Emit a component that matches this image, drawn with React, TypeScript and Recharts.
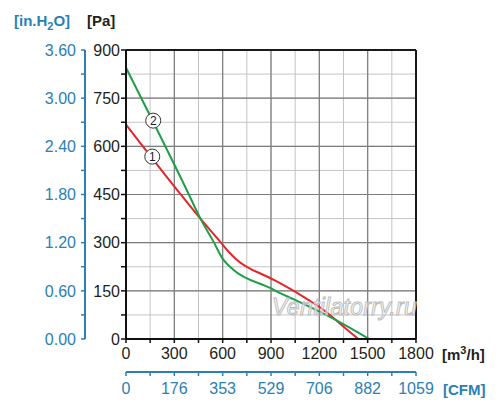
import React from 'react';
import { LineChart, Line, XAxis, YAxis, CartesianGrid, ReferenceLine, ReferenceDot } from 'recharts';

const curve1 = [
  { q: 0, p: 668 }, { q: 318, p: 464 }, { q: 463, p: 374 }, { q: 583, p: 304 },
  { q: 640, p: 270 }, { q: 687, p: 247 }, { q: 894, p: 190 }, { q: 956, p: 174 },
  { q: 1132, p: 122 }, { q: 1225, p: 91 }, { q: 1349, p: 39 }, { q: 1442, p: 0 },
];
const curve2 = [
  { q: 0, p: 845 }, { q: 377, p: 464 }, { q: 463, p: 374 }, { q: 542, p: 304 },
  { q: 604, p: 247 }, { q: 666, p: 216 }, { q: 894, p: 159 }, { q: 956, p: 143 },
  { q: 1039, p: 124 }, { q: 1318, p: 55 }, { q: 1510, p: 0 },
];
const curveLabels = [
  { q: 169, p: 680, text: '2' },
  { q: 163, p: 568, text: '1' },
];
const flowTicks = [0, 150, 300, 450, 600, 750, 900, 1050, 1200, 1350, 1500, 1650, 1800];
const flowMajor = [300, 600, 900, 1200, 1500];
const paTicks = [0, 75, 150, 225, 300, 375, 450, 525, 600, 675, 750, 825, 900];
const paMajor = [150, 300, 450, 600, 750];
const inTicks = [0, 0.3, 0.6, 0.9, 1.2, 1.5, 1.8, 2.1, 2.4, 2.7, 3.0, 3.3, 3.6];
const inLabels = ['0.00', '', '0.60', '', '1.20', '', '1.80', '', '2.40', '', '3.00', '', '3.60'];
const cfmLabels = ['0', '', '176', '', '353', '', '529', '', '706', '', '882', '', '1059'];

const BLUE = '#2b80b4';
const DARK = '#231f20';
const FONT = 'Liberation Sans, Arial, sans-serif';

export default function App() {
  return (
    <div style={{ position: 'absolute', left: 0, top: 0, width: 500, height: 413, background: '#fff', fontFamily: FONT }}>
      <LineChart width={500} height={413} margin={{ top: 50, right: 84, left: 0, bottom: 0 }}>
        <CartesianGrid stroke="#c4c4c4" strokeWidth={1} />
        {flowMajor.map((v) => (
          <ReferenceLine key={'vx' + v} x={v} stroke="#7d7d7d" strokeWidth={1.2} />
        ))}
        {paMajor.map((v) => (
          <ReferenceLine key={'hy' + v} y={v} stroke="#7d7d7d" strokeWidth={1.2} />
        ))}
        <ReferenceLine y={900} stroke="#1a1a1a" strokeWidth={2} />
        <ReferenceLine x={1800} stroke="#1a1a1a" strokeWidth={2} />
        <XAxis
          dataKey="q"
          type="number"
          domain={[0, 1800]}
          ticks={flowTicks}
          interval={0}
          height={33}
          tickSize={4}
          tickMargin={5}
          axisLine={{ stroke: '#111', strokeWidth: 2 }}
          tickLine={{ stroke: '#111', strokeWidth: 1.5 }}
          tick={{ fill: DARK, fontSize: 16, fontFamily: FONT }}
          tickFormatter={(v: number) => (v % 300 === 0 ? String(v) : '')}
          allowDataOverflow
        />
        <XAxis
          xAxisId="cfm"
          dataKey="q"
          type="number"
          domain={[0, 1800]}
          ticks={flowTicks}
          interval={0}
          height={41}
          tickSize={4}
          tickMargin={7}
          axisLine={{ stroke: BLUE, strokeWidth: 2 }}
          tickLine={{ stroke: BLUE, strokeWidth: 1.5 }}
          tick={{ fill: BLUE, fontSize: 16, fontFamily: FONT }}
          tickFormatter={(v: number) => cfmLabels[flowTicks.indexOf(v)] ?? ''}
          allowDataOverflow
        />
        <YAxis
          type="number"
          domain={[0, 900]}
          ticks={paTicks}
          interval={0}
          width={41}
          tickSize={5}
          tickMargin={1}
          axisLine={{ stroke: '#111', strokeWidth: 2 }}
          tickLine={{ stroke: '#111', strokeWidth: 1.5 }}
          tick={{ fill: DARK, fontSize: 16, fontFamily: FONT }}
          tickFormatter={(v: number) => (v % 150 === 0 ? String(v) : '')}
          allowDataOverflow
        />
        <YAxis
          yAxisId="in"
          type="number"
          domain={[0, 3.6]}
          ticks={inTicks}
          interval={0}
          width={85}
          tickSize={4}
          tickMargin={5}
          axisLine={{ stroke: BLUE, strokeWidth: 2 }}
          tickLine={{ stroke: BLUE, strokeWidth: 1.5 }}
          tick={{ fill: BLUE, fontSize: 16, fontFamily: FONT }}
          tickFormatter={(v: number) => inLabels[inTicks.findIndex((t) => Math.abs(t - v) < 1e-6)] ?? ''}
          allowDataOverflow
        />
        <Line xAxisId="cfm" yAxisId="in" data={[]} dataKey="p" stroke="none" dot={false} legendType="none" isAnimationActive={false} />
        <Line data={curve1} dataKey="p" type="monotone" stroke="#e2262b" strokeWidth={2} dot={false} isAnimationActive={false} />
        <Line data={curve2} dataKey="p" type="monotone" stroke="#1f9e48" strokeWidth={2} dot={false} isAnimationActive={false} />
        {curveLabels.map((c) => (
          <ReferenceDot
            key={c.text}
            x={c.q}
            y={c.p}
            r={7.5}
            fill="#fff"
            stroke="#333"
            strokeWidth={1}
            label={{ value: c.text, position: 'center', fill: '#222', fontSize: 12, fontFamily: FONT }}
          />
        ))}
      </LineChart>
      <div style={{ position: 'absolute', left: 14, top: 12, color: BLUE, fontWeight: 'bold', fontSize: 15, whiteSpace: 'nowrap' }}>
        [in.H<sub style={{ fontSize: 11 }}>2</sub>O]
      </div>
      <div style={{ position: 'absolute', left: 87, top: 12, color: DARK, fontWeight: 'bold', fontSize: 15 }}>[Pa]</div>
      <div style={{ position: 'absolute', left: 442, top: 344, color: DARK, fontWeight: 'bold', fontSize: 15, whiteSpace: 'nowrap' }}>
        [m<sup style={{ fontSize: 11 }}>3</sup>/h]
      </div>
      <div style={{ position: 'absolute', left: 443, top: 381, color: BLUE, fontWeight: 'bold', fontSize: 15 }}>[CFM]</div>
      <div
        style={{
          position: 'absolute', left: 272, top: 294, fontSize: 23, fontStyle: 'italic', color: 'rgba(255,255,255,0.5)',
          WebkitTextStroke: '1px #bdbdbd', whiteSpace: 'nowrap', letterSpacing: 0.3,
        }}
      >
        Ventilatorry.ru
      </div>
    </div>
  );
}
